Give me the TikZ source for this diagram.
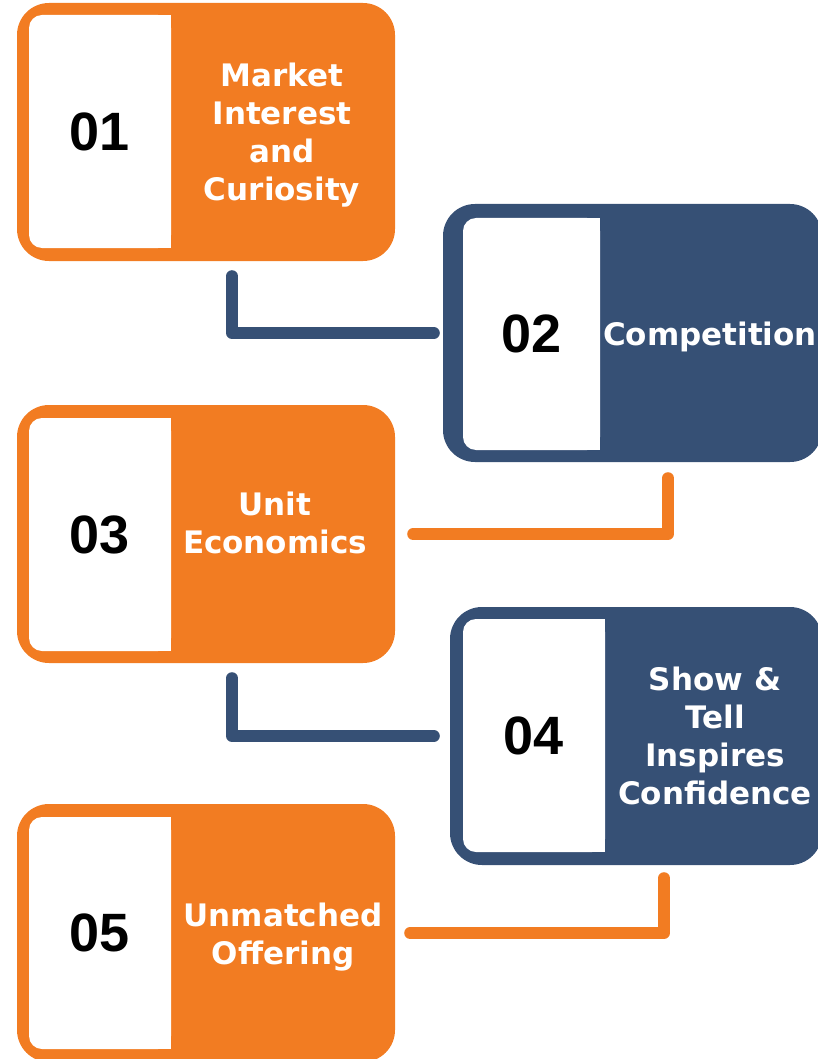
\documentclass[tikz,border=0pt]{standalone}
\usepackage{fontspec}
\newfontfamily\lblfont{DejaVu Sans}
\newfontfamily\numfont{Liberation Sans}
\definecolor{brandorange}{HTML}{F27C22}
\definecolor{brandnavy}{HTML}{365075}

\begin{document}
\begin{tikzpicture}[
    x=1pt, y=-1pt,
    % Box styles (outer card, white number panel, label text)
    card/.style={fill=#1, rounded corners=32pt, minimum width=378pt, minimum height=258pt, inner sep=0pt},
    panel/.style={fill=white, rounded corners=13pt, minimum width=142pt, minimum height=233pt, inner sep=0pt, font=\numfont\bfseries\fontsize{54}{60}\selectfont},
    lbl/.style={text=white, align=center, inner sep=0pt, font=\lblfont\bfseries\fontsize{31}{38}\selectfont},
    link/.style={draw=#1, line width=12pt, line cap=round, line join=round}
]
\useasboundingbox (0,0) rectangle (818,1059);

% ---------------------------------------------------------
% 1. CARDS
% ---------------------------------------------------------
\node[card=brandorange] (b1) at (206, 132) {};
\node[card=brandnavy, minimum width=379pt] (b2) at (632.5, 333) {};
\node[card=brandorange] (b3) at (206, 534) {};
\node[card=brandnavy, minimum width=372pt] (b4) at (636, 736) {};
\node[card=brandorange] (b5) at (206, 933) {};

% ---------------------------------------------------------
% 2. NUMBER PANELS (square right edge)
% ---------------------------------------------------------
\node[panel] (p1) at (100, 131.5) {01};
\fill[white] ([xshift=-15pt]p1.north east) rectangle (p1.south east);

\node[panel, minimum width=137pt, minimum height=232pt] (p2) at (531.5, 334) {02};
\fill[white] ([xshift=-15pt]p2.north east) rectangle (p2.south east);

\node[panel] (p3) at (100, 534.5) {03};
\fill[white] ([xshift=-15pt]p3.north east) rectangle (p3.south east);

\node[panel] (p4) at (534, 735.5) {04};
\fill[white] ([xshift=-15pt]p4.north east) rectangle (p4.south east);

\node[panel, minimum height=232pt] (p5) at (100, 933) {05};
\fill[white] ([xshift=-15pt]p5.north east) rectangle (p5.south east);

% ---------------------------------------------------------
% 3. LABELS
% ---------------------------------------------------------
\node[lbl] (l1) at (282, 135) {Market\\Interest\\and\\Curiosity};
\node[lbl] (l2) at (710, 337) {Competition};
\node[lbl] (l3) at (275, 523) {Unit\\Economics};
\node[lbl] (l4) at (715, 735.5) {Show \&\\Tell\\Inspires\\Confidence};
\node[lbl] (l5) at (283, 937) {Unmatched\\Offering};

% ---------------------------------------------------------
% 4. CONNECTORS
% ---------------------------------------------------------
\draw[link=brandnavy] ([xshift=26pt,yshift=-15pt]b1.south) |- ([xshift=-9pt]b2.west);
\draw[link=brandorange] ([xshift=35.5pt,yshift=-16pt]b2.south) |- ([xshift=18pt]b3.east);
\draw[link=brandnavy] ([xshift=26pt,yshift=-15pt]b3.south) |- ([xshift=-16pt]b4.west);
\draw[link=brandorange] ([xshift=28pt,yshift=-13pt]b4.south) |- ([xshift=15pt]b5.east);

\end{tikzpicture}
\end{document}
